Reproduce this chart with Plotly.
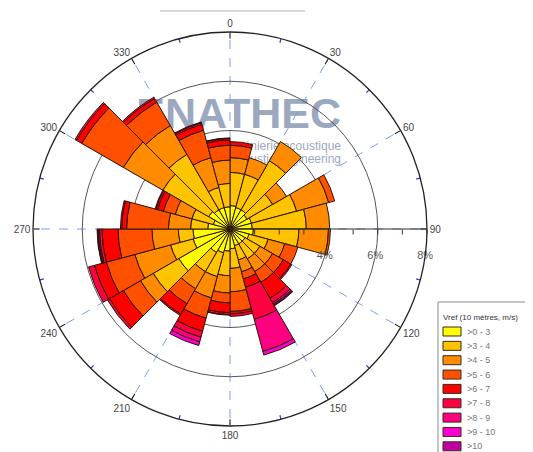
import math
import plotly.graph_objects as go

# ---- data -------------------------------------------------------------
directions = [7.5, 22.5, 37.5, 52.5, 67.5, 82.5, 97.5, 112.5, 127.5, 142.5, 157.5, 172.5,
              187.5, 202.5, 217.5, 232.5, 247.5, 262.5, 277.5, 292.5, 307.5, 322.5, 337.5, 352.5]
speed_bins = [">0 - 3", ">3 - 4", ">4 - 5", ">5 - 6", ">6 - 7", ">7 - 8", ">8 - 9", ">9 - 10", ">10"]
bin_colors = ["#FFFF00", "#FFC400", "#FF8C00", "#FF5000", "#FF0000", "#FF0040", "#FF0080", "#FF00D0", "#C0009E"]

# frequency (%) per direction sector, one list per speed bin
f_0_3  = [0.95, 0.9, 0.9, 0.8, 0.9, 0.9, 0.95, 0.8, 0.7, 0.7, 0.7, 0.8, 0.9, 1.0, 1.1, 2.4, 1.55, 1.5, 0.9, 0.7, 1.0, 0.9, 0.9, 0.9]
f_3_4  = [1.35, 1.4, 2.3, 1.2, 1.9, 2.2, 1.85, 0.8, 0.7, 0.7, 0.6, 0.8, 1.0, 1.0, 0.9, 1.2, 0.95, 0.6, 0.7, 0.9, 2.15, 2.6, 0.85, 0.95]
f_4_5  = [0.6, 0.7, 0.9, 0.65, 1.35, 0.95, 1.2, 0.7, 0.6, 0.6, 0.5, 0.95, 0.7, 0.9, 0.8, 0.6, 1.5, 1.07, 0.9, 0.7, 1.85, 1.35, 1.25, 0.95]
f_5_6  = [0.5, 0.0, 0.0, 0.0, 0.25, 0.0, 0.08, 0.55, 0.5, 0.5, 0.3, 0.8, 0.4, 0.85, 0.7, 0.8, 1.2, 1.38, 1.7, 0.5, 1.95, 1.1, 1.15, 0.6]
f_6_7  = [0.15, 0.0, 0.0, 0.0, 0.0, 0.0, 0.0, 0.0, 0.35, 0.75, 0.35, 0.1, 0.4, 0.55, 0.5, 0.65, 0.5, 0.65, 0.2, 0.25, 0.25, 0.17, 0.25, 0.22]
f_7_8  = [0.0, 0.0, 0.0, 0.0, 0.0, 0.0, 0.0, 0.0, 0.05, 0.2, 1.35, 0.1, 0.08, 0.25, 0.05, 0.1, 0.25, 0.1, 0.05, 0.07, 0.07, 0.06, 0.07, 0.06]
f_8_9  = [0.0, 0.0, 0.0, 0.0, 0.0, 0.0, 0.0, 0.0, 0.0, 0.07, 1.35, 0.0, 0.02, 0.2, 0.0, 0.0, 0.0, 0.05, 0.0, 0.03, 0.0, 0.0, 0.03, 0.02]
f_9_10 = [0.0, 0.0, 0.0, 0.0, 0.0, 0.0, 0.0, 0.0, 0.0, 0.05, 0.15, 0.0, 0.0, 0.15, 0.0, 0.0, 0.0, 0.03, 0.0, 0.0, 0.0, 0.0, 0.0, 0.0]
f_10   = [0.0, 0.0, 0.0, 0.0, 0.0, 0.0, 0.0, 0.0, 0.0, 0.03, 0.0, 0.0, 0.0, 0.0, 0.0, 0.0, 0.0, 0.02, 0.0, 0.0, 0.0, 0.0, 0.0, 0.0]
bin_values = [f_0_3, f_3_4, f_4_5, f_5_6, f_6_7, f_7_8, f_8_9, f_9_10, f_10]

angle_ticks = [0, 30, 60, 90, 120, 150, 180, 210, 240, 270, 300, 330]
minor_angles = [15, 45, 75, 105, 135, 165, 195, 225, 255, 285, 315, 345]
ring_values = [2, 4, 6, 8]
ring_labels = [4, 6, 8]
radial_ticks = [1, 2, 3, 4, 5, 6, 7, 8]
legend_title = "Vref (10 mètres, m/s)"

# ---- layout geometry (window pixels; page body has an 8px margin) -----
W, H = 533, 452
OFF = 8
CX, CY, R = 230, 229, 197
RMAX = 8
px_per_unit = R / RMAX
FONT = "Liberation Sans, Arial, sans-serif"

fig = go.Figure()

# watermark (cartesian layer, below the polar plot)
fig.add_trace(go.Scatter(
    x=[341, 341, 341], y=[117, 146.5, 159.5], mode="text",
    text=["<b>ENATHEC</b>", "Ingénierie acoustique", "Acoustic engineering"],
    textposition="middle left",
    textfont=dict(family=FONT, size=[43, 12, 12], color="#8a99b6"),
    opacity=0.85, hoverinfo="skip", showlegend=False,
    xaxis="x", yaxis="y"))

# percentage labels sitting on the rings, just below the radial axis
offset_px = 27
lab_theta = [90 + math.degrees(math.asin(offset_px / (v * px_per_unit))) for v in ring_labels]
fig.add_trace(go.Scatterpolar(
    r=ring_labels, theta=lab_theta, mode="text",
    text=[f"{v}%" for v in ring_labels],
    textfont=dict(family=FONT, size=11, color="#555555"),
    cliponaxis=False, hoverinfo="skip", showlegend=False, subplot="polar"))

# stacked wind rose bars
for name, vals, col in zip(speed_bins, bin_values, bin_colors):
    fig.add_trace(go.Barpolar(
        r=vals, theta=directions, width=15, name=name,
        marker=dict(color=col, line=dict(color="#2a1608", width=1)),
        subplot="polar", showlegend=False))

# blue minor ticks crossing the outer ring
mt_r, mt_t = [], []
for a in minor_angles:
    mt_r += [RMAX - 0.17, RMAX + 0.17, None]
    mt_t += [a, a, None]
fig.add_trace(go.Scatterpolar(
    r=mt_r, theta=mt_t, mode="lines", line=dict(color="#2238d8", width=1.2),
    cliponaxis=False, hoverinfo="skip", showlegend=False, subplot="polar"))

# invisible trace for the overlay subplot carrying the radial axis ticks
fig.add_trace(go.Scatterpolar(r=[0], theta=[0], mode="markers", marker=dict(opacity=0),
                              hoverinfo="skip", showlegend=False, subplot="polar2"))

dom_x = [(CX - OFF - R) / W, (CX - OFF + R) / W]
dom_y = [(H - (CY - OFF) - R) / H, (H - (CY - OFF) + R) / H]

fig.update_layout(
    width=W, height=H, margin=dict(l=0, r=0, t=0, b=0),
    paper_bgcolor="white", plot_bgcolor="rgba(0,0,0,0)", showlegend=False,
    font=dict(family=FONT),
    xaxis=dict(range=[OFF, W + OFF], domain=[0, 1], visible=False, fixedrange=True),
    yaxis=dict(range=[H + OFF, OFF], domain=[0, 1], visible=False, fixedrange=True),
    polar=dict(
        domain=dict(x=dom_x, y=dom_y), bgcolor="rgba(0,0,0,0)", barmode="stack",
        angularaxis=dict(rotation=90, direction="clockwise", tickmode="array",
                         tickvals=angle_ticks, ticktext=[str(a) for a in angle_ticks],
                         ticks="inside", ticklen=6, tickcolor="black", tickwidth=1,
                         showline=True, linecolor="#222222", linewidth=1.3,
                         showgrid=True, gridcolor="#7d9ef2", griddash="dash", gridwidth=1,
                         tickfont=dict(family=FONT, size=10, color="#444444")),
        radialaxis=dict(range=[0, RMAX], angle=0, tickmode="array", tickvals=ring_values,
                        showticklabels=False, ticks="", showline=False,
                        showgrid=True, gridcolor="#555555", gridwidth=1,
                        layer="below traces"),
    ),
    polar2=dict(
        domain=dict(x=dom_x, y=dom_y), bgcolor="rgba(0,0,0,0)",
        angularaxis=dict(visible=False, rotation=90, direction="clockwise"),
        radialaxis=dict(range=[0, RMAX], angle=0, tickmode="array", tickvals=radial_ticks,
                        showticklabels=False, ticks="outside", ticklen=5, tickcolor="#333333",
                        showline=True, linecolor="#333333", linewidth=1, showgrid=False,
                        side="clockwise"),
    ),
)

shapes = [dict(type="line", xref="x", yref="y", x0=160, x1=305, y0=11, y1=11,
               line=dict(color="#b4b4b4", width=1))]
annotations = []

# custom legend (compact rows like the reference)
LX, LY = 438, 302
shapes.append(dict(type="rect", xref="x", yref="y", x0=LX, x1=W + 20, y0=LY, y1=H + 20,
                   line=dict(color="#8a8a8a", width=1), fillcolor="white"))
annotations.append(dict(x=LX + 3, y=LY + 15, xref="x", yref="y", text=legend_title,
                        showarrow=False, xanchor="left", yanchor="middle",
                        font=dict(family=FONT, size=8, color="#333333")))
row0, row_h = LY + 29.5, 14.35
for i, (name, col) in enumerate(zip(speed_bins, bin_colors)):
    yc = row0 + i * row_h
    shapes.append(dict(type="rect", xref="x", yref="y", x0=LX + 5, x1=LX + 23,
                       y0=yc - 4.5, y1=yc + 4.5, fillcolor=col,
                       line=dict(color="#3a2a1a", width=1)))
    annotations.append(dict(x=LX + 27, y=yc, xref="x", yref="y", text=name,
                            showarrow=False, xanchor="left", yanchor="middle",
                            font=dict(family=FONT, size=9, color="#777777")))

fig.update_layout(shapes=shapes, annotations=annotations)
fig.write_html("out.html")
